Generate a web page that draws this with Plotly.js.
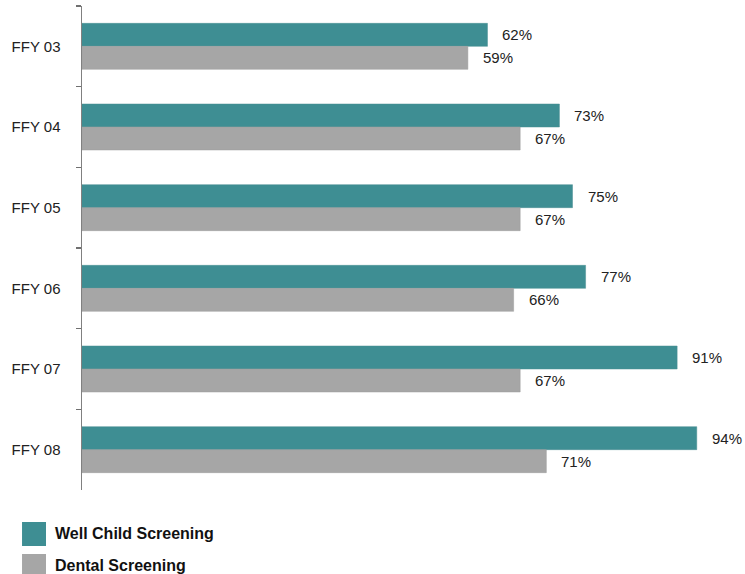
<!DOCTYPE html>
<html><head><meta charset="utf-8">
<script src="https://cdn.plot.ly/plotly-3.0.1.min.js"></script>
<style>html,body{margin:0;padding:0;background:#fff}#chart{width:745px;height:574px}</style>
</head><body><div id="chart"></div>
<script>
const categories = ["FFY 03","FFY 04","FFY 05","FFY 06","FFY 07","FFY 08"];
const wellChild = [62,73,75,77,91,94];
const dental = [59,67,67,66,67,71];
const seriesNames = ["Well Child Screening","Dental Screening"];
const colors = ["#3e8e93","#a6a6a6"];

const labelFont = {family:"Liberation Sans, Arial, sans-serif", size:15, color:"#222"};
const traces = [
  {type:"bar", orientation:"h", name:seriesNames[0], y:categories, x:wellChild,
   marker:{color:colors[0], line:{color:"#4a8f93", width:0.5}}, hoverinfo:"x"},
  {type:"bar", orientation:"h", name:seriesNames[1], y:categories, x:dental,
   marker:{color:colors[1], line:{color:"#9d9d9d", width:0.5}}, hoverinfo:"x"}
];

const annotations = [];
[wellChild, dental].forEach((arr, si) => {
  arr.forEach((v, i) => {
    annotations.push({x:v, y:categories[i], xref:"x", yref:"y", text:v+"%",
      showarrow:false, xanchor:"left", yanchor:"middle", xshift:13,
      yshift: si===0 ? 11.5 : -11.5, font:labelFont});
  });
});
// legend
const legendY = [-0.0909, -0.157];
seriesNames.forEach((n, i) => {
  annotations.push({xref:"paper", yref:"paper", x:-0.0444, y:legendY[i], text:"<b>"+n+"</b>",
    showarrow:false, xanchor:"left", yanchor:"middle",
    font:{family:"Liberation Sans, Arial, sans-serif", size:16, color:"#111"}});
});
const shapes = [
  {type:"rect", xref:"paper", yref:"paper", x0:-0.0917, x1:-0.055, y0:-0.0661, y1:-0.1157, fillcolor:colors[0], line:{width:0}},
  {type:"rect", xref:"paper", yref:"paper", x0:-0.0917, x1:-0.055, y0:-0.1322, y1:-0.1818, fillcolor:colors[1], line:{width:0}}
];

const layout = {
  width:745, height:574,
  margin:{l:82, r:9, t:6, b:84},
  paper_bgcolor:"#fff", plot_bgcolor:"#fff",
  barmode:"group", bargap:0.43, bargroupgap:0,
  showlegend:false,
  xaxis:{range:[0,100], visible:false, fixedrange:true},
  yaxis:{autorange:"reversed", type:"category", showline:true, linecolor:"#808080", linewidth:1.5,
    ticks:"outside", ticklen:5, tickwidth:1.5, tickcolor:"#707070", tickson:"boundaries",
    showgrid:false, zeroline:false, ticklabelstandoff:17,
    tickfont:labelFont},
  annotations, shapes
};
Plotly.newPlot("chart", traces, layout, {displayModeBar:false, staticPlot:true});
</script></body></html>
